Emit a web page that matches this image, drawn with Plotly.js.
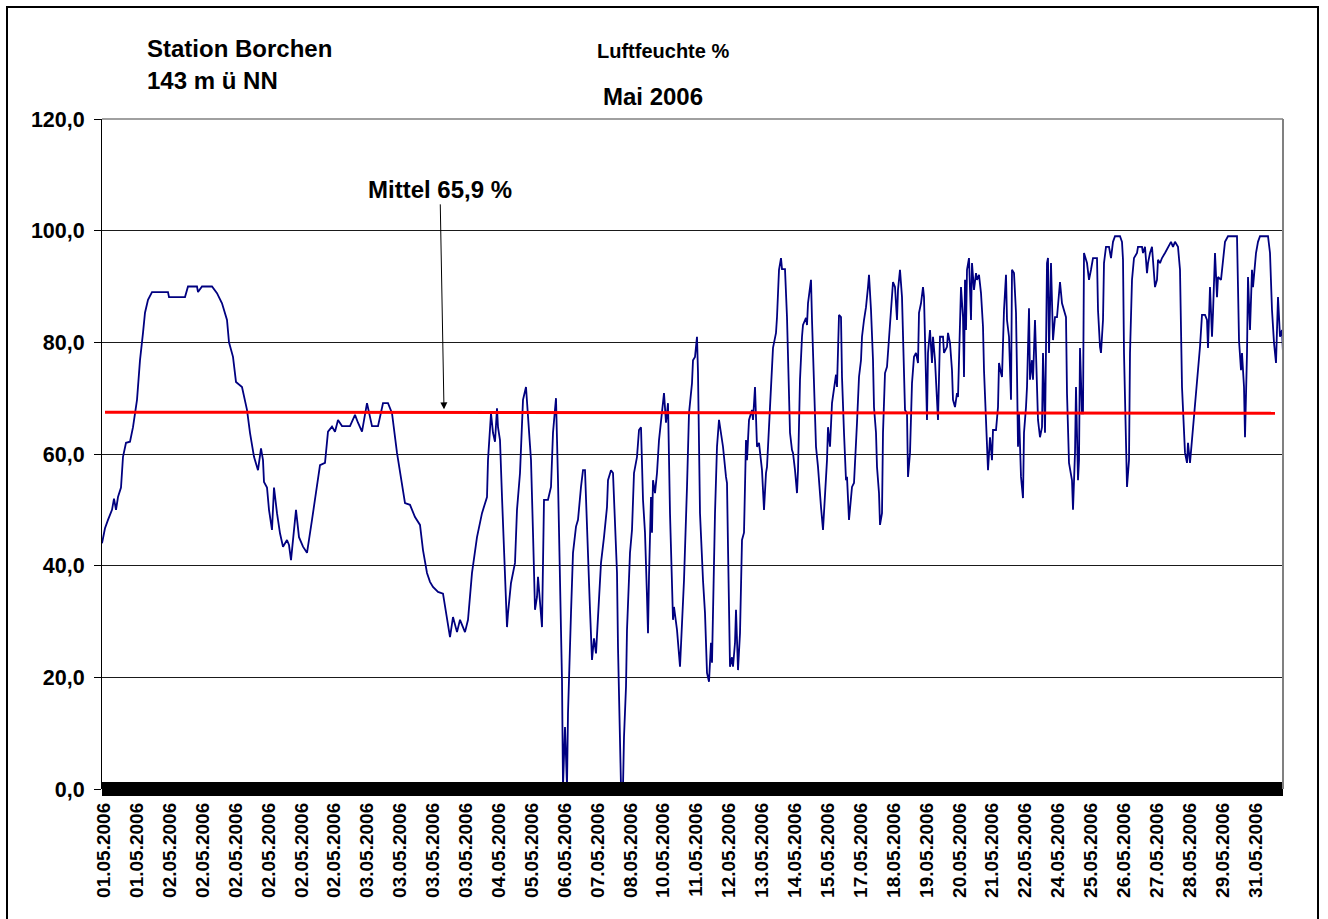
<!DOCTYPE html>
<html>
<head>
<meta charset="utf-8">
<script src="https://cdn.plot.ly/plotly-3.0.1.min.js"></script>
<style>
  html, body { margin: 0; padding: 0; background: #fff; }
  #wrap { position: relative; width: 1328px; height: 919px; overflow: hidden; }
  #chart { position: absolute; left: 0; top: 0; width: 1328px; height: 919px; }
  #frame { position: absolute; left: 6px; top: 6px; width: 1313px; height: 940px; border: 2px solid #000; box-sizing: border-box; pointer-events: none; }
</style>
</head>
<body>
<div id="wrap"><div id="chart"></div><div id="frame"></div></div>
<script>
// Record index (measurement number) and relative humidity (%)
const records = [0,3,6,10,12,14,16,19,21,24,28,31,35,38,41,43,46,50,66,67,83,86,95,96,100,110,115,120,125,127,131,134,140,145,148,152,156,159,161,162,165,167,170,172,175,178,181,185,187,189,194,197,201,205,210,215,218,223,226,230,233,236,240,248,253,256,260,265,270,276,281,286,290,295,300,303,308,313,318,321,325,328,331,336,341,343,348,351,355,358,363,366,370,375,380,385,386,389,391,393,395,396,398,400,402,405,406,409,413,415,418,421,424,426,429,431,433,435,436,440,442,446,449,451,454,456,458,460,461,463,465,466,469,471,474,476,479,481,483,485,488,490,492,494,496,499,502,505,506,509,511,513,515,516,518,519,521,522,524,525,528,530,532,535,537,539,541,543,545,546,547,549,550,551,553,555,557,560,562,564,566,568,571,572,575,578,580,582,585,587,590,591,593,595,596,598,601,603,605,607,609,610,613,615,617,619,621,624,625,626,628,630,631,633,634,636,638,640,642,644,645,647,650,651,653,655,657,660,662,664,665,668,670,671,674,675,677,679,680,683,685,686,688,690,691,693,695,696,698,700,701,704,705,706,709,710,712,714,716,717,719,721,722,725,726,728,730,732,734,735,737,739,740,742,744,745,747,750,752,755,757,759,760,762,764,766,767,769,771,772,774,775,777,778,780,781,783,785,786,788,790,791,793,795,796,798,800,801,803,805,806,808,810,812,814,816,817,819,821,822,824,825,826,828,830,831,833,835,836,838,841,842,845,846,848,850,851,853,855,856,858,859,861,862,863,864,865,867,869,870,872,874,875,877,879,881,882,884,885,886,888,890,891,894,896,897,899,900,902,904,905,907,909,910,912,914,915,916,917,919,921,922,924,925,927,928,930,931,933,935,936,938,940,941,943,945,946,947,949,951,953,955,958,960,962,964,965,967,970,971,973,974,976,977,978,980,981,982,985,987,989,991,995,996,998,999,1001,1002,1004,1007,1009,1011,1013,1018,1020,1021,1022,1024,1025,1027,1028,1030,1032,1035,1036,1040,1041,1043,1045,1046,1048,1050,1051,1053,1055,1056,1058,1060,1063,1066,1069,1071,1073,1076,1078,1080,1081,1083,1085,1086,1088,1090,1091,1093,1096,1098,1100,1103,1105,1106,1108,1110,1111,1113,1115,1116,1119,1121,1123,1126,1135,1136,1137,1139,1140,1142,1143,1145,1146,1148,1150,1151,1154,1156,1158,1166,1168,1170,1172,1174,1175,1176,1178,1180,1181];
const humidity = [44,46.7,48.2,50,52,50,52.3,54,59.5,62,62.2,64.8,69.7,76.8,81.7,85.3,87.6,89,89,88.1,88.1,90,90,89,90,90,88.8,87,84,80,77.4,72.9,72,67.9,63.8,59.5,57.1,61,58.9,55,54,50,46.4,54,49.4,45.8,43.4,44.6,43.7,41,50,45.1,43.4,42.3,48.2,54.1,58,58.4,64,64.9,64,66.1,65,65,67,65.6,64,69.1,65,65,69.1,69.1,67.3,60.2,54.8,51.2,50.9,48.7,47.3,42.8,38.7,37.1,36.2,35.3,35,32.6,27.2,30.8,28.1,30.3,28.1,30.3,38.7,45.1,49.4,52.3,58.9,67.3,63.8,62.2,68.2,64.8,62.5,52.3,43.4,29,31.5,36.9,40.5,50,56.6,69.7,72,67.3,58.9,45.9,32.1,34.4,38,29,51.8,51.8,54.1,63.8,70,55.3,37.4,19.5,0.4,11.1,0.4,13.6,31.5,42.3,47,48.2,54.1,57.1,57.1,45.9,32.1,23.1,27,24.3,30.3,40.5,45.1,50.5,55.3,57.1,56.6,45.9,38.7,25.4,11.1,0.4,0.4,9.3,18.3,28.5,42.3,46.4,56.6,59.5,64.3,64.8,51.8,45.9,34.4,27.9,38,52.3,45.9,55.3,53,56.6,62.5,67.3,70.9,65.6,69.1,49.4,30.3,32.6,28.5,21.9,28.5,37.4,54.1,67.3,72.7,76.8,77.4,81,74.5,49.4,37.4,31.5,20.8,19.2,26.2,22.6,49.4,61.3,66.1,63.8,61.3,55.9,54.8,43.4,21.9,23.6,21.9,26.2,32.1,21.3,27.9,44.6,45.9,62.5,58.9,66.1,67.9,66.1,72,61.3,62,57.1,50,56.6,57.7,68.4,76.3,79,81.7,84.5,93,95.1,93.1,93.1,84.5,75.6,63.8,60.7,60.2,57.1,53,57.1,73.3,81,83.1,84.4,83.1,87,91.2,84,70.2,61.3,57.7,54.8,50.5,46.4,49.4,58.9,64.8,61.3,69.1,72,74.2,72,84.9,84.5,73.8,63.8,55.3,55.9,48.2,54.1,54.8,65.6,73.8,76.8,81,84,86.3,89.9,92.1,85.8,76.8,68.4,63.8,57.7,53,47.3,49.4,63.8,74.5,75.6,78.1,82.2,87,90.8,89.9,84,89.4,93,88.1,81,67.9,67.3,55.9,60.2,72.7,77.4,78.1,76.3,85.3,87,89.9,88.1,73.3,66.1,78.1,82.2,76.3,81,76.8,70.9,66.1,81,81,78.1,79.2,81.7,79.9,75,69.7,68.4,70.9,70.2,81,89.9,84.5,73.8,91.2,82.2,93,95.1,84,94.2,89.4,92.4,91.2,92.1,88.8,82.8,75,66.6,63,57.1,63,58.9,64.3,64.3,68.4,76.3,74.5,73.8,85.8,92.1,84,81,69.7,93,92.4,85.3,74.5,61.3,67.3,55.9,52.1,63.8,68.4,72,86.1,73.3,76.8,73.3,84,71.5,66.1,63,64.8,78.1,63.8,94.2,95.1,78.1,94.2,80.4,84.5,84.5,90.8,87,85.8,84.5,70.9,58.4,55.3,50,60.2,72,55.3,58.9,79,67.3,67.3,96,94.2,91.2,93,95.1,95.1,85.8,79.2,78.1,84,94.2,97.1,97.1,95.1,98,99,99,98,94.8,78.1,60.2,54.1,58.9,78.1,91.2,95.1,96,97.1,97.1,96,97.1,92.4,94.2,96,97.1,94.2,89.9,91.2,94.8,94.2,95.1,96,97.1,98,97.1,98,97.1,93,72,67.3,60.2,58.4,62,58.4,62.5,64.8,69.1,75,79.2,84.9,84.9,84,79,89.9,81,85.3,96,88.1,91.7,91.2,94.2,98,99,99,89.9,80.4,75,78.1,72,63,78.1,91.7,82.2,93,89.9,96,98,99,99,96,85.8,79.9,76.3,82.2,88.1,81,82.2,78.1];

// Mean / trend line
const meanRecords = [3, 1173];
const meanValues = [67.5, 67.3];

// Category tick labels (one every ~33 records)
const dateLabels = ["01.05.2006","01.05.2006","02.05.2006","02.05.2006","02.05.2006","02.05.2006","02.05.2006","02.05.2006","03.05.2006","03.05.2006","03.05.2006","03.05.2006","04.05.2006","05.05.2006","06.05.2006","07.05.2006","08.05.2006","10.05.2006","11.05.2006","12.05.2006","13.05.2006","14.05.2006","15.05.2006","17.05.2006","18.05.2006","19.05.2006","20.05.2006","21.05.2006","22.05.2006","24.05.2006","25.05.2006","26.05.2006","27.05.2006","28.05.2006","29.05.2006","31.05.2006"];
const firstLabelRecord = 2;
const labelStep = 32.9;
const yTicks = [0, 20, 40, 60, 80, 100, 120];

const tickPositions = dateLabels.map((_, i) => firstLabelRecord + i * labelStep);
const FONT = "Liberation Sans, Arial, sans-serif";

const traces = [
  {
    x: records, y: humidity, type: "scatter", mode: "lines",
    line: { color: "#000080", width: 1.8 }, hoverinfo: "skip", showlegend: false
  },
  {
    x: meanRecords, y: meanValues, type: "scatter", mode: "lines",
    line: { color: "#ff0000", width: 3 }, hoverinfo: "skip", showlegend: false
  }
];

const layout = {
  width: 1328, height: 919,
  margin: { l: 102, r: 45, t: 119, b: 130, pad: 0 },
  paper_bgcolor: "#ffffff", plot_bgcolor: "#ffffff",
  separators: ",.",
  showlegend: false,
  font: { family: FONT, color: "#000" },
  xaxis: {
    range: [0, 1181], showgrid: false, zeroline: false,
    tickmode: "array", tickvals: tickPositions, ticktext: dateLabels,
    tickangle: -90, ticks: "", ticklabelstandoff: 9,
    tickfont: { family: FONT, size: 19, weight: "bold", color: "#000" },
    showline: false, fixedrange: true
  },
  yaxis: {
    range: [0, 120], tickmode: "array", tickvals: yTicks, tickformat: ".1f",
    showgrid: true, gridcolor: "#1a1a1a", gridwidth: 1, zeroline: false,
    showline: true, linecolor: "#000", linewidth: 1,
    ticks: "outside", ticklen: 7, tickcolor: "#000", tickwidth: 1,
    ticklabelstandoff: 5,
    tickfont: { family: FONT, size: 21.5, weight: "bold", color: "#000" },
    fixedrange: true
  },
  shapes: [
    // dense category tick band along the x axis
    { type: "rect", xref: "paper", yref: "paper", x0: 0, x1: 1, y0: -0.0105, y1: 0.0105,
      fillcolor: "#000", line: { width: 0 }, layer: "above" },
    // right plot-area border
    { type: "line", xref: "paper", yref: "paper", x0: 1, x1: 1, y0: 0, y1: 1,
      line: { color: "#808080", width: 2 } },
    // top border
    { type: "line", xref: "paper", yref: "paper", x0: 0, x1: 1, y0: 1, y1: 1,
      line: { color: "#808080", width: 1.5 } }
  ],
  annotations: [
    { text: "Station Borchen", xref: "paper", yref: "paper", x: 0.0364, y: 1.1045,
      xanchor: "left", yanchor: "middle", showarrow: false,
      font: { family: FONT, size: 24, weight: "bold" } },
    { text: "143 m ü NN", xref: "paper", yref: "paper", x: 0.0364, y: 1.058,
      xanchor: "left", yanchor: "middle", showarrow: false,
      font: { family: FONT, size: 24, weight: "bold" } },
    { text: "Luftfeuchte %", xref: "paper", yref: "paper", x: 0.475, y: 1.1015,
      xanchor: "center", yanchor: "middle", showarrow: false,
      font: { family: FONT, size: 20, weight: "bold" } },
    { text: "Mai 2006", xref: "paper", yref: "paper", x: 0.4665, y: 1.033,
      xanchor: "center", yanchor: "middle", showarrow: false,
      font: { family: FONT, size: 24, weight: "bold" } },
    { text: "Mittel 65,9 %", x: 342, y: 68, xref: "x", yref: "y",
      ax: -4, ay: -220, showarrow: true, arrowhead: 2, arrowsize: 1.4, arrowwidth: 1,
      arrowcolor: "#000", standoff: 0,
      font: { family: FONT, size: 24, weight: "bold" } }
  ]
};

Plotly.newPlot("chart", traces, layout, { displayModeBar: false, staticPlot: true });
</script>
</body>
</html>
